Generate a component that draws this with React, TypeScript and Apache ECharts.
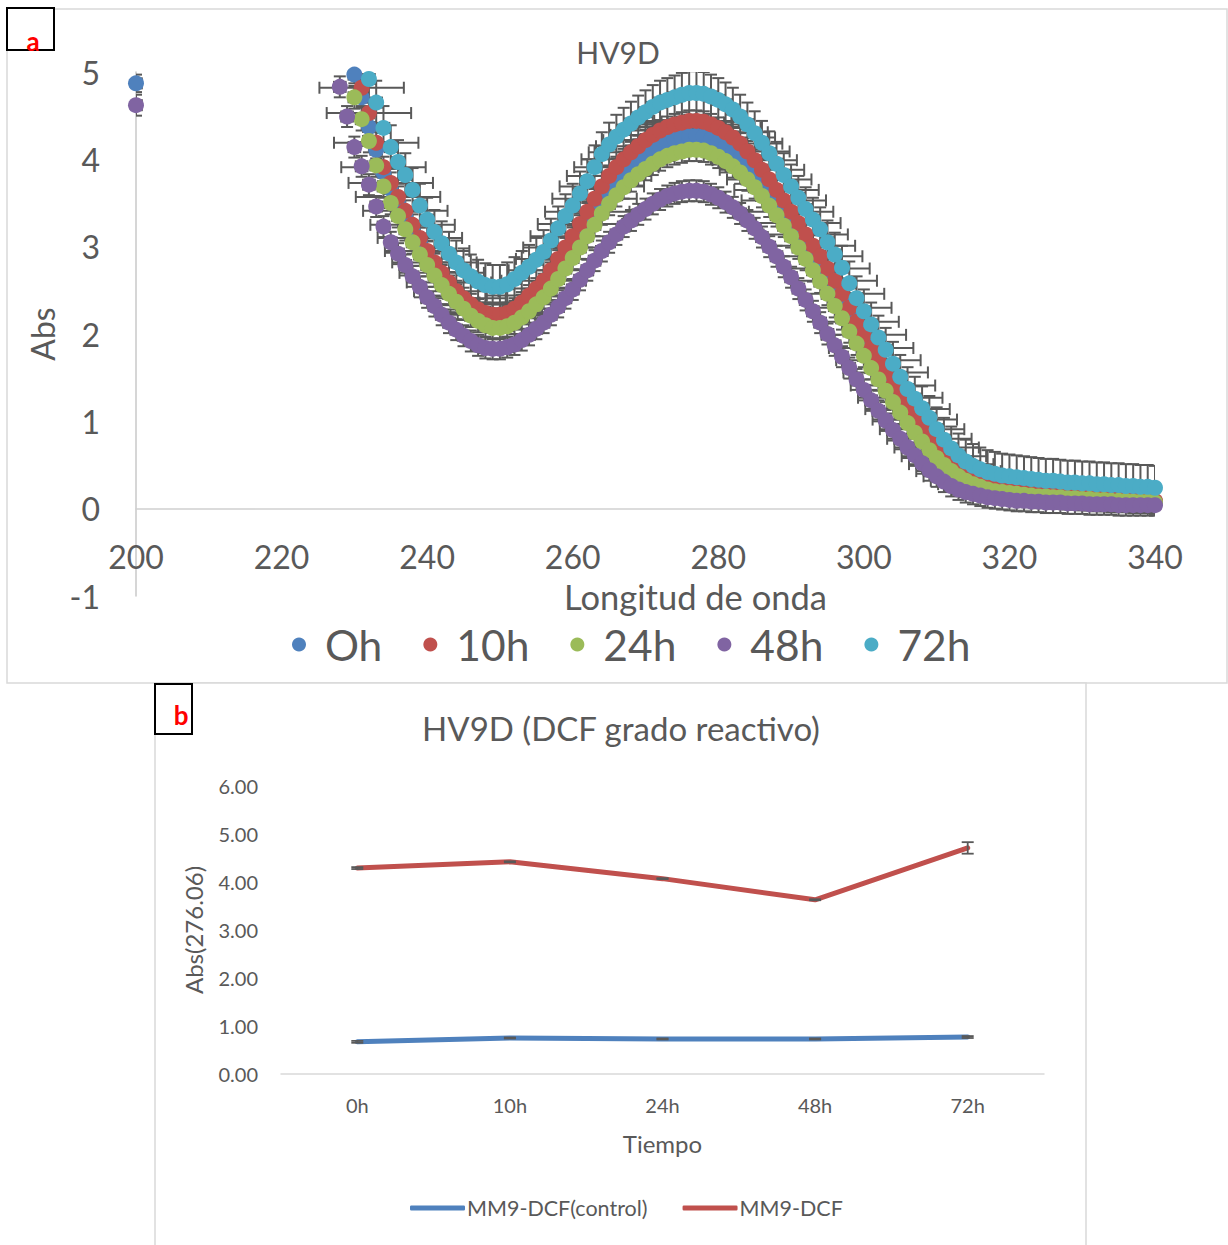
import React, { useEffect, useRef } from "react";
import * as echarts from "echarts";

// ---------- Panel a: absorbance spectra ----------
const wavelengths = [
  200,
  228, 229,
  230, 231, 232, 233, 234, 235, 236, 237, 238, 239,
  240, 241, 242, 243, 244, 245, 246, 247, 248, 249,
  250, 251, 252, 253, 254, 255, 256, 257, 258, 259,
  260, 261, 262, 263, 264, 265, 266, 267, 268, 269,
  270, 271, 272, 273, 274, 275, 276, 277, 278, 279,
  280, 281, 282, 283, 284, 285, 286, 287, 288, 289,
  290, 291, 292, 293, 294, 295, 296, 297, 298, 299,
  300, 301, 302, 303, 304, 305, 306, 307, 308, 309,
  310, 311, 312, 313, 314, 315, 316, 317, 318, 319,
  320, 321, 322, 323, 324, 325, 326, 327, 328, 329,
  330, 331, 332, 333, 334, 335, 336, 337, 338, 339,
  340,
];

const abs0h = [
  4.87,
  null, null,
  4.97, 4.71, 4.37, 4.11, 3.85, 3.66, 3.5, 3.35, 3.19, 3.05,
  2.9, 2.77, 2.65, 2.54, 2.44, 2.36, 2.29, 2.23, 2.19, 2.17,
  2.17, 2.19, 2.24, 2.31, 2.38, 2.46, 2.55, 2.66, 2.78, 2.9,
  3.02, 3.15, 3.28, 3.42, 3.55, 3.66, 3.76, 3.84, 3.92, 3.99,
  4.05, 4.11, 4.16, 4.2, 4.23, 4.25, 4.27, 4.27, 4.26, 4.23,
  4.19, 4.14, 4.08, 4.01, 3.93, 3.84, 3.74, 3.63, 3.52, 3.4,
  3.28, 3.15, 3.03, 2.91, 2.79, 2.66, 2.52, 2.38, 2.23, 2.08,
  1.93, 1.79, 1.65, 1.51, 1.37, 1.24, 1.11, 0.99, 0.88, 0.77,
  0.67, 0.58, 0.49, 0.42, 0.36, 0.31, 0.27, 0.24, 0.22, 0.2,
  0.19, 0.18, 0.17, 0.16, 0.15, 0.15, 0.14, 0.14, 0.13, 0.13,
  0.12, 0.12, 0.11, 0.11, 0.1, 0.1, 0.09, 0.09, 0.09, 0.08,
  0.08,
];

const abs10h = [
  null,
  null, null,
  null, 4.82, 4.53, 4.19, 3.91, 3.73, 3.57, 3.41, 3.25, 3.1,
  2.95, 2.82, 2.7, 2.59, 2.49, 2.41, 2.34, 2.28, 2.24, 2.22,
  2.22, 2.24, 2.29, 2.36, 2.44, 2.52, 2.61, 2.73, 2.86, 2.99,
  3.12, 3.26, 3.4, 3.55, 3.69, 3.81, 3.91, 4.0, 4.08, 4.15,
  4.22, 4.28, 4.33, 4.37, 4.4, 4.42, 4.44, 4.44, 4.43, 4.4,
  4.36, 4.31, 4.25, 4.18, 4.09, 3.99, 3.88, 3.77, 3.65, 3.53,
  3.4, 3.27, 3.14, 3.01, 2.89, 2.75, 2.61, 2.46, 2.3, 2.14,
  1.99, 1.84, 1.7, 1.56, 1.41, 1.27, 1.14, 1.02, 0.91, 0.8,
  0.7, 0.6, 0.51, 0.43, 0.37, 0.32, 0.28, 0.25, 0.23, 0.21,
  0.2, 0.19, 0.18, 0.17, 0.16, 0.16, 0.15, 0.15, 0.14, 0.14,
  0.13, 0.13, 0.12, 0.12, 0.11, 0.11, 0.1, 0.1, 0.1, 0.09,
  0.09,
];

const abs24h = [
  null,
  null, null,
  4.71, 4.46, 4.21, 3.93, 3.69, 3.5, 3.35, 3.2, 3.05, 2.91,
  2.79, 2.67, 2.56, 2.46, 2.37, 2.29, 2.21, 2.15, 2.1, 2.07,
  2.07, 2.09, 2.13, 2.19, 2.26, 2.34, 2.42, 2.52, 2.63, 2.75,
  2.87, 2.99, 3.12, 3.25, 3.38, 3.49, 3.59, 3.68, 3.76, 3.83,
  3.89, 3.95, 4.0, 4.04, 4.07, 4.09, 4.11, 4.11, 4.1, 4.07,
  4.03, 3.98, 3.92, 3.85, 3.77, 3.68, 3.58, 3.47, 3.36, 3.24,
  3.12, 2.99, 2.86, 2.73, 2.6, 2.46, 2.32, 2.18, 2.03, 1.89,
  1.75, 1.61, 1.48, 1.35, 1.22, 1.1, 0.98, 0.87, 0.77, 0.67,
  0.58, 0.5, 0.43, 0.37, 0.32, 0.28, 0.25, 0.22, 0.2, 0.19,
  0.18, 0.17, 0.16, 0.15, 0.14, 0.14, 0.13, 0.13, 0.12, 0.12,
  0.11, 0.11, 0.1, 0.1, 0.09, 0.09, 0.09, 0.08, 0.08, 0.08,
  0.07,
];

const abs48h = [
  4.62,
  4.83, 4.49,
  4.14, 3.92, 3.71, 3.46, 3.23, 3.05, 2.92, 2.79, 2.66, 2.54,
  2.42, 2.32, 2.22, 2.13, 2.05, 1.98, 1.92, 1.87, 1.84, 1.83,
  1.83, 1.85, 1.88, 1.93, 1.99, 2.06, 2.13, 2.22, 2.31, 2.41,
  2.51, 2.62, 2.73, 2.84, 2.95, 3.05, 3.14, 3.23, 3.3, 3.37,
  3.43, 3.49, 3.54, 3.58, 3.61, 3.63, 3.64, 3.64, 3.63, 3.6,
  3.56, 3.51, 3.45, 3.38, 3.3, 3.21, 3.11, 3.0, 2.89, 2.77,
  2.65, 2.52, 2.39, 2.26, 2.13, 2.0, 1.87, 1.74, 1.61, 1.48,
  1.36, 1.24, 1.12, 1.01, 0.9, 0.8, 0.7, 0.61, 0.52, 0.44,
  0.37, 0.31, 0.26, 0.22, 0.19, 0.17, 0.15, 0.13, 0.12, 0.11,
  0.1, 0.09, 0.09, 0.08, 0.08, 0.07, 0.07, 0.07, 0.06, 0.06,
  0.06, 0.05, 0.05, 0.05, 0.05, 0.04, 0.04, 0.04, 0.04, 0.04,
  0.04,
];

const abs72h = [
  null,
  null, null,
  null, null, 4.92, 4.65, 4.36, 4.14, 3.97, 3.82, 3.65, 3.47,
  3.31, 3.17, 3.04, 2.92, 2.82, 2.73, 2.66, 2.6, 2.56, 2.54,
  2.54, 2.57, 2.63, 2.7, 2.77, 2.85, 2.94, 3.07, 3.21, 3.35,
  3.47, 3.61, 3.75, 3.91, 4.06, 4.17, 4.26, 4.34, 4.41, 4.48,
  4.54, 4.6, 4.65, 4.68, 4.71, 4.74, 4.76, 4.76, 4.75, 4.72,
  4.68, 4.63, 4.57, 4.49, 4.4, 4.3, 4.19, 4.07, 3.95, 3.82,
  3.69, 3.56, 3.43, 3.31, 3.2, 3.05, 2.91, 2.76, 2.58, 2.41,
  2.26, 2.11, 1.96, 1.82, 1.66, 1.51, 1.37, 1.26, 1.15, 1.04,
  0.91, 0.79, 0.69, 0.61, 0.54, 0.49, 0.45, 0.42, 0.4, 0.38,
  0.37, 0.36, 0.35, 0.34, 0.33, 0.32, 0.32, 0.31, 0.3, 0.3,
  0.29, 0.29, 0.28, 0.28, 0.27, 0.27, 0.26, 0.26, 0.25, 0.25,
  0.24,
];

const spectraNames = ["Oh", "10h", "24h", "48h", "72h"];
const spectraColors = ["#4F81BD", "#C0504D", "#9BBB59", "#8064A2", "#4BACC6"];
const spectraYErr = [0.1, 0.12, 0.13, 0.12, 0.25];
const spectraXErr = [0.8, 5.8, 0.8, 0.8, 0.8];

const xTicksA = { min: 200, max: 340, interval: 20 };
const yTicksA = { min: -1, max: 5, interval: 1 };

// ---------- Panel b: absorbance at 276.06 nm vs time ----------
const timeCategories = ["0h", "10h", "24h", "48h", "72h"];
const controlValues = [0.67, 0.75, 0.73, 0.73, 0.77];
const controlErr = [0.02, 0.01, 0.01, 0.01, 0.02];
const dcfValues = [4.29, 4.42, 4.07, 3.63, 4.71];
const dcfErr = [0.02, 0.01, 0.01, 0.01, 0.12];
const lineNames = ["MM9-DCF(control)", "MM9-DCF"];
const lineColors = ["#4F81BD", "#C0504D"];

const FONT = "Lato, 'Open Sans', sans-serif";
const TXT = "#595959";

function errorBarRenderer(cap: number, width: number) {
  return (params: any, api: any) => {
    const x = api.value(0);
    const y = api.value(1);
    const ex = api.value(2);
    const ey = api.value(3);
    const style = { stroke: "#595959", lineWidth: width, fill: null };
    const children: any[] = [];
    if (ey > 0) {
      const top = api.coord([x, y + ey]);
      const bot = api.coord([x, y - ey]);
      children.push(
        { type: "line", shape: { x1: top[0], y1: top[1], x2: bot[0], y2: bot[1] }, style },
        { type: "line", shape: { x1: top[0] - cap, y1: top[1], x2: top[0] + cap, y2: top[1] }, style },
        { type: "line", shape: { x1: bot[0] - cap, y1: bot[1], x2: bot[0] + cap, y2: bot[1] }, style }
      );
    }
    if (ex > 0) {
      const l = api.coord([x - ex, y]);
      const r = api.coord([x + ex, y]);
      children.push(
        { type: "line", shape: { x1: l[0], y1: l[1], x2: r[0], y2: r[1] }, style },
        { type: "line", shape: { x1: l[0], y1: l[1] - cap, x2: l[0], y2: l[1] + cap }, style },
        { type: "line", shape: { x1: r[0], y1: r[1] - cap, x2: r[0], y2: r[1] + cap }, style }
      );
    }
    const cs = params.coordSys;
    return {
      type: "group",
      children,
      clipPath: { type: "rect", shape: { x: cs.x, y: cs.y, width: cs.width, height: cs.height } },
    };
  };
}

export default function App() {
  const ref = useRef<HTMLDivElement>(null);

  useEffect(() => {
    if (!ref.current) return;
    const chart = echarts.init(ref.current, undefined, { renderer: "svg" });

    const gridA = { left: 136, top: 72, width: 1019, height: 524 };
    // move the x axis of panel a up to the zero line (labels follow it)
    const zeroOffset = -(gridA.height * (0 - yTicksA.min)) / (yTicksA.max - yTicksA.min);

    const spectra = [abs0h, abs10h, abs24h, abs48h, abs72h];
    const seriesA: any[] = [];
    spectra.forEach((vals, i) => {
      const pts: any[] = [];
      wavelengths.forEach((w, k) => {
        const v = vals[k];
        if (v !== null && v !== undefined) pts.push([w, v]);
      });
      seriesA.push({
        type: "custom",
        name: spectraNames[i],
        xAxisIndex: 0,
        yAxisIndex: 0,
        silent: true,
        itemStyle: { color: spectraColors[i] },
        renderItem: errorBarRenderer(6, 2),
        data: pts.map((p) => [p[0], p[1], spectraXErr[i], spectraYErr[i]]),
      });
      seriesA.push({
        type: "scatter",
        name: spectraNames[i],
        xAxisIndex: 0,
        yAxisIndex: 0,
        symbol: "circle",
        symbolSize: 16,
        itemStyle: { color: spectraColors[i], opacity: 1 },
        data: pts,
      });
    });

    const seriesB: any[] = [];
    [controlValues, dcfValues].forEach((vals, i) => {
      const errs = i === 0 ? controlErr : dcfErr;
      seriesB.push({
        type: "custom",
        name: lineNames[i],
        xAxisIndex: 1,
        yAxisIndex: 1,
        silent: true,
        itemStyle: { color: lineColors[i] },
        renderItem: errorBarRenderer(6, 1.8),
        data: vals.map((v, k) => [k, v, 0, errs[k]]),
        z: 3,
      });
      seriesB.push({
        type: "line",
        name: lineNames[i],
        xAxisIndex: 1,
        yAxisIndex: 1,
        symbol: "none",
        lineStyle: { color: lineColors[i], width: 5, cap: "round", join: "round" },
        itemStyle: { color: lineColors[i] },
        data: vals,
        z: 2,
      });
    });

    chart.setOption({
      animation: false,
      backgroundColor: "#ffffff",
      textStyle: { fontFamily: FONT },
      grid: [
        gridA,
        { left: 281, top: 786, width: 763, height: 288 },
      ],
      xAxis: [
        {
          type: "value",
          gridIndex: 0,
          min: xTicksA.min,
          max: xTicksA.max,
          interval: xTicksA.interval,
          offset: zeroOffset,
          axisLine: { onZero: false, lineStyle: { color: "#d0d0d0", width: 1.5 } },
          axisTick: { show: false },
          splitLine: { show: false },
          axisLabel: { color: TXT, fontSize: 32, fontFamily: FONT, margin: 32 },
          name: "Longitud de onda",
          nameLocation: "middle",
          nameGap: 70,
          nameTextStyle: { color: TXT, fontSize: 34.5, fontFamily: FONT, padding: [0, 0, 0, 100] },
        },
        {
          type: "category",
          gridIndex: 1,
          data: timeCategories,
          boundaryGap: true,
          axisLine: { lineStyle: { color: "#d9d9d9", width: 1.5 } },
          axisTick: { show: false },
          axisLabel: { color: TXT, fontSize: 20, fontFamily: FONT, margin: 21 },
          name: "Tiempo",
          nameLocation: "middle",
          nameGap: 57,
          nameTextStyle: { color: TXT, fontSize: 24, fontFamily: FONT },
        },
      ],
      yAxis: [
        {
          type: "value",
          gridIndex: 0,
          min: yTicksA.min,
          max: yTicksA.max,
          interval: yTicksA.interval,
          axisLine: { show: true, onZero: false, lineStyle: { color: "#c8c8c8", width: 1.5 } },
          axisTick: { show: false },
          splitLine: { show: false },
          axisLabel: { color: TXT, fontSize: 32, fontFamily: FONT, margin: 36 },
          name: "Abs",
          nameLocation: "middle",
          nameGap: 78,
          nameTextStyle: { color: TXT, fontSize: 32, fontFamily: FONT },
        },
        {
          type: "value",
          gridIndex: 1,
          min: 0,
          max: 6,
          interval: 1,
          axisLine: { show: false },
          axisTick: { show: false },
          splitLine: { show: false },
          axisLabel: {
            color: TXT,
            fontSize: 20,
            fontFamily: FONT,
            margin: 23,
            formatter: (v: number) => v.toFixed(2),
          },
          name: "Abs(276.06)",
          nameLocation: "middle",
          nameGap: 76,
          nameTextStyle: { color: TXT, fontSize: 24, fontFamily: FONT },
        },
      ],
      legend: [
        {
          left: 292,
          top: 623,
          padding: 0,
          itemGap: 41,
          itemWidth: 14,
          itemHeight: 14,
          selectedMode: false,
          textStyle: { color: TXT, fontSize: 42.5, fontFamily: FONT, padding: [0, 0, 0, 14] },
          data: spectraNames.map((n, i) => ({ name: n, icon: "circle", itemStyle: { color: spectraColors[i] } })),
        },
        {
          left: 410,
          top: 1197,
          padding: 0,
          itemGap: 35,
          itemWidth: 55,
          itemHeight: 5,
          selectedMode: false,
          textStyle: { color: TXT, fontSize: 21.5, fontFamily: FONT, padding: [0, 0, 0, -3] },
          data: lineNames.map((n, i) => ({ name: n, icon: "roundRect", itemStyle: { color: lineColors[i] } })),
        },
      ],
      graphic: [
        { type: "rect", z: -10, shape: { x: 7, y: 9, width: 1220, height: 674 }, style: { fill: "#ffffff", stroke: "#d9d9d9", lineWidth: 1.5 } },
        { type: "rect", z: -10, shape: { x: 155, y: 683, width: 931, height: 600 }, style: { fill: "#ffffff", stroke: "#d9d9d9", lineWidth: 1.5 } },
        { type: "text", x: 618, y: 52, style: { text: "HV9D", fill: TXT, fontSize: 30, fontFamily: FONT, textAlign: "center", textVerticalAlign: "middle" } },
        { type: "text", x: 621, y: 728, style: { text: "HV9D (DCF grado reactivo)", fill: TXT, fontSize: 33, fontFamily: FONT, textAlign: "center", textVerticalAlign: "middle" } },
        { type: "rect", z: 100, shape: { x: 7, y: 8, width: 47, height: 42 }, style: { fill: "#ffffff", stroke: "#000000", lineWidth: 2 } },
        { type: "text", z: 101, x: 33, y: 41, style: { text: "a", fill: "#ff0000", fontSize: 26, fontWeight: "bold", fontFamily: FONT, textAlign: "center", textVerticalAlign: "middle" } },
        { type: "rect", z: 100, shape: { x: 155, y: 684, width: 37, height: 50 }, style: { fill: "#ffffff", stroke: "#000000", lineWidth: 2 } },
        { type: "text", z: 101, x: 181, y: 715, style: { text: "b", fill: "#ff0000", fontSize: 26, fontWeight: "bold", fontFamily: FONT, textAlign: "center", textVerticalAlign: "middle" } },
      ],
      series: [...seriesA, ...seriesB],
    });

    return () => chart.dispose();
  }, []);

  return (
    <div
      ref={ref}
      style={{ position: "absolute", left: 0, top: 0, width: 1228, height: 1245, background: "#ffffff" }}
    />
  );
}
